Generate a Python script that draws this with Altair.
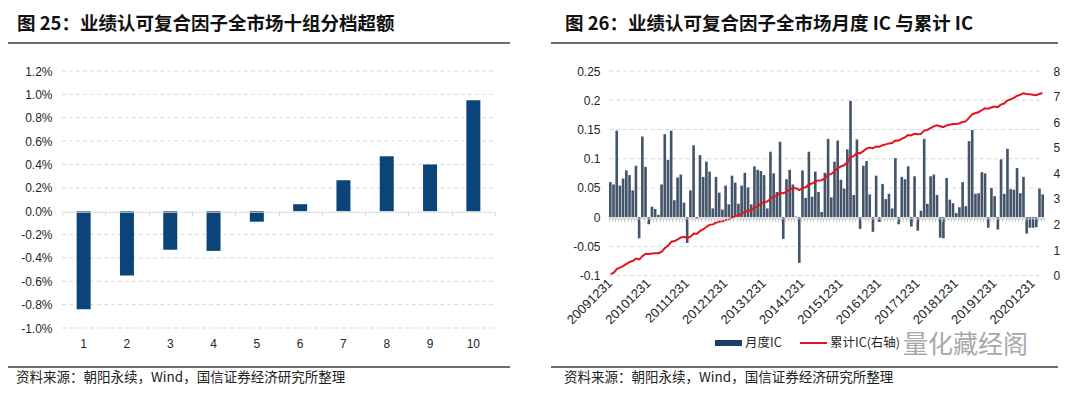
import altair as alt
import pandas as pd

# ---------------- data ----------------
GROUPS = ["1", "2", "3", "4", "5", "6", "7", "8", "9", "10"]
GROUP_EXCESS = [-0.0084, -0.0055, -0.0033, -0.0034, -0.0009, 0.0006, 0.00265, 0.0047, 0.0040, 0.0095]
LEFT_TICKS = [-0.010, -0.008, -0.006, -0.004, -0.002, 0.0, 0.002, 0.004, 0.006, 0.008, 0.010, 0.012]

MONTHS = [f"{y}{m:02d}" for y in range(2009, 2022) for m in range(1, 13)
          if "200912" <= f"{y}{m:02d}" <= "202103"]
MONTHLY_IC = [
    0.060, 0.056, 0.148, 0.054, 0.066, 0.080, 0.072, 0.046, 0.088, -0.036,
    0.138, 0.086, -0.012, 0.018, 0.014, 0.004, 0.056, 0.142, 0.098, 0.148,
    0.029, 0.068, 0.073, 0.025, -0.044, 0.046, 0.123, -0.003, 0.106, 0.069,
    0.095, 0.078, 0.015, 0.069, 0.042, 0.013, 0.054, 0.022, 0.071, 0.059,
    0.023, 0.054, 0.076, 0.051, 0.022, 0.087, 0.081, 0.079, 0.072, 0.015,
    0.112, 0.075, 0.043, 0.129, -0.037, 0.065, 0.081, 0.056, 0.001, -0.078,
    0.080, 0.033, 0.112, 0.035, 0.078, 0.043, 0.009, 0.076, 0.134, 0.034,
    0.095, 0.131, 0.064, 0.049, 0.116, 0.199, 0.038, 0.133, -0.020, 0.088,
    0.096, 0.039, -0.025, 0.071, -0.008, 0.057, 0.031, 0.040, 0.015, 0.101,
    -0.012, 0.069, 0.065, 0.087, -0.016, 0.070, -0.023, 0.011, 0.134, 0.023,
    0.070, 0.073, 0.038, -0.035, -0.036, 0.067, 0.030, 0.024, 0.007, 0.017,
    0.060, 0.019, 0.130, 0.149, 0.040, 0.041, 0.077, 0.075, -0.018, 0.050,
    0.036, -0.021, 0.099, 0.040, 0.117, 0.048, 0.047, 0.084, 0.041, 0.069,
    -0.028, -0.018, -0.018, -0.017, 0.049, 0.039,
]
DATE_TICK_LABELS = ["20091231", "20101231", "20111231", "20121231", "20131231", "20141231",
                    "20151231", "20161231", "20171231", "20181231", "20191231", "20201231"]
IC_TICKS = [-0.1, -0.05, 0.0, 0.05, 0.1, 0.15, 0.2, 0.25]
CUM_TICKS = [0, 1, 2, 3, 4, 5, 6, 7, 8]

TITLE_LEFT = "图 25：业绩认可复合因子全市场十组分档超额"
TITLE_RIGHT = "图 26：业绩认可复合因子全市场月度 IC 与累计 IC"
SOURCE = "资料来源：朝阳永续，Wind，国信证券经济研究所整理"
LEG_BAR = "月度IC"
LEG_LINE = "累计IC(右轴)"
WATERMARK = "量化藏经阁"

CJK = "Noto Sans CJK SC"
LAT = "Liberation Sans"
TXT = "#262626"

df_left = pd.DataFrame({"g": GROUPS, "val": GROUP_EXCESS})
df_lgrid = pd.DataFrame({"v": [t for t in LEFT_TICKS if t != 0]})
df_right = pd.DataFrame({"m": MONTHS, "ic": MONTHLY_IC, "idx": list(range(len(MONTHS)))})
df_rgrid = pd.DataFrame({"v": [t for t in IC_TICKS if t != 0]})
ONE = pd.DataFrame({"k": [0]})

# ---------------- scales ----------------
lx = alt.Scale(domain=GROUPS, range=[59, 492], paddingInner=0, paddingOuter=0)
ly = alt.Scale(domain=[-0.010, 0.012], range=[324, 67], nice=False, zero=False)
rx = alt.Scale(domain=MONTHS, range=[606, 1041], paddingInner=0.18, paddingOuter=0)
ry = alt.Scale(domain=[-0.1, 0.25], range=[271.7, 67], nice=False, zero=False)
ry2 = alt.Scale(domain=[0, 8], range=[271.7, 67], nice=False, zero=False)

H = 382
lab = dict(labelFont=LAT, labelColor=TXT, title=None, grid=False)

# ---------------- left panel ----------------
left_grid = alt.Chart(df_lgrid).mark_rule(color="#d9d9d9", strokeDash=[4, 3], strokeWidth=1).encode(
    y=alt.Y("v:Q", scale=ly, axis=None), x=alt.value(59), x2=alt.value(492))

left_bars = alt.Chart(df_left).mark_bar(size=14, color="#0b4478").encode(
    x=alt.X("g:N", scale=lx, sort=GROUPS,
            axis=alt.Axis(orient="bottom", offset=324 - H, domain=False, ticks=False,
                          tickSize=0, labelPadding=10, labelAngle=0, labelFontSize=12, **lab)),
    y=alt.Y("val:Q", scale=ly,
            axis=alt.Axis(orient="left", offset=-59, values=LEFT_TICKS, domain=False, ticks=False,
                          tickSize=0, labelPadding=10, labelFontSize=12,
                          labelExpr="replace(format(datum.value, '.1%'), '\u2212', '-')", **lab)))

left_zero = alt.Chart(df_left).mark_point(opacity=0).encode(
    x=alt.X("g:N", scale=lx, sort=GROUPS,
            axis=alt.Axis(orient="bottom", offset=207.7 - H, labels=False, ticks=True, tickBand="extent",
                          tickSize=4, tickColor="#d9d9d9", domain=True, domainColor="#d9d9d9",
                          grid=False, title=None, zindex=1)))

# ---------------- right panel ----------------
right_grid = alt.Chart(df_rgrid).mark_rule(color="#d9d9d9", strokeDash=[4, 3], strokeWidth=1).encode(
    y=alt.Y("v:Q", scale=ry, axis=None), x=alt.value(606), x2=alt.value(1041))

right_bars = alt.Chart(df_right).mark_bar(color="#44546a").encode(
    x=alt.X("m:N", scale=rx, sort=MONTHS,
            axis=alt.Axis(orient="bottom", offset=271.7 - H, values=[d[:6] for d in DATE_TICK_LABELS],
                          labelExpr="datum.label + '31'", labelAngle=315, labelAlign="right",
                          labelBaseline="middle", domain=False, ticks=False, tickSize=0,
                          labelPadding=5, labelOverlap=False, labelFontSize=13, **lab)),
    y=alt.Y("ic:Q", scale=ry,
            axis=alt.Axis(orient="left", offset=-606, values=IC_TICKS, domain=False, ticks=False,
                          tickSize=0, labelPadding=9, labelFontSize=12,
                          labelExpr="replace(format(datum.value, '~g'), '\u2212', '-')", **lab)))

right_zero = alt.Chart(df_right).mark_point(opacity=0).encode(
    x=alt.X("m:N", scale=rx, sort=MONTHS,
            axis=alt.Axis(orient="bottom", offset=214.3 - H, labels=False, ticks=True, tickBand="extent",
                          tickSize=3, tickColor="#c8c8c8", domain=True, domainColor="#c8c8c8",
                          grid=False, title=None, zindex=1)))

right_line = alt.Chart(df_right).transform_window(
    cum="sum(ic)", sort=[alt.SortField("idx")], frame=[None, 0]
).mark_line(color="#e3141f", strokeWidth=2).encode(
    x=alt.X("m:N", scale=rx, sort=MONTHS, axis=None),
    y=alt.Y("cum:Q", scale=ry2,
            axis=alt.Axis(orient="right", offset=-28, values=CUM_TICKS, domain=False, ticks=False,
                          tickSize=0, labelPadding=9, format="d", labelFontSize=12, **lab)))


# ---------------- decorations ----------------
def hrule(x1, x2, y, w=1.5, color="#3a3a3a"):
    return alt.Chart(ONE).mark_rule(color=color, strokeWidth=w).encode(
        x=alt.value(x1), x2=alt.value(x2), y=alt.value(y))


def label(txt, x, y, size, weight="normal", color=TXT, font=CJK, opacity=1.0):
    return alt.Chart(ONE).mark_text(align="left", baseline="middle", fontSize=size, fontWeight=weight,
                                    color=color, font=font, opacity=opacity).encode(
        x=alt.value(x), y=alt.value(y), text=alt.value(txt))


deco = [
    hrule(0, 507, 1), hrule(0, 507, 39), hrule(0, 507, 363),
    hrule(548, 1055, 1), hrule(548, 1055, 39), hrule(548, 1055, 363),
    label(TITLE_LEFT, 14, 19.5, 18.5, "bold", "#111111"),
    label(TITLE_RIGHT, 562, 19.5, 18.5, "bold", "#111111"),
    label(SOURCE, 13, 373.5, 13.5, color="#222222"),
    label(SOURCE, 561, 373.5, 13.5, color="#222222"),
    alt.Chart(ONE).mark_rect(color="#1f3d66").encode(
        x=alt.value(712), x2=alt.value(739), y=alt.value(336), y2=alt.value(342)),
    label(LEG_BAR, 742, 339, 12.5),
    hrule(797, 824, 339, w=2, color="#e3141f"),
    label(LEG_LINE, 827, 339, 12.5),
    label(WATERMARK, 900, 341, 25, color="#9a9a9a", opacity=0.85),
]

chart = alt.layer(
    left_grid, left_bars, left_zero,
    right_grid, right_bars, right_zero, right_line,
    *deco
).resolve_scale(x="independent", y="independent").resolve_axis(
    x="independent", y="independent"
).properties(
    width=1069, height=H,
    autosize=alt.AutoSizeParams(type="none"),
    padding={"left": -5, "top": -4, "right": 0, "bottom": 0},
).configure_view(stroke=None).configure(background="white")

chart.save("out.html", embed_options={"renderer": "svg", "actions": False})
